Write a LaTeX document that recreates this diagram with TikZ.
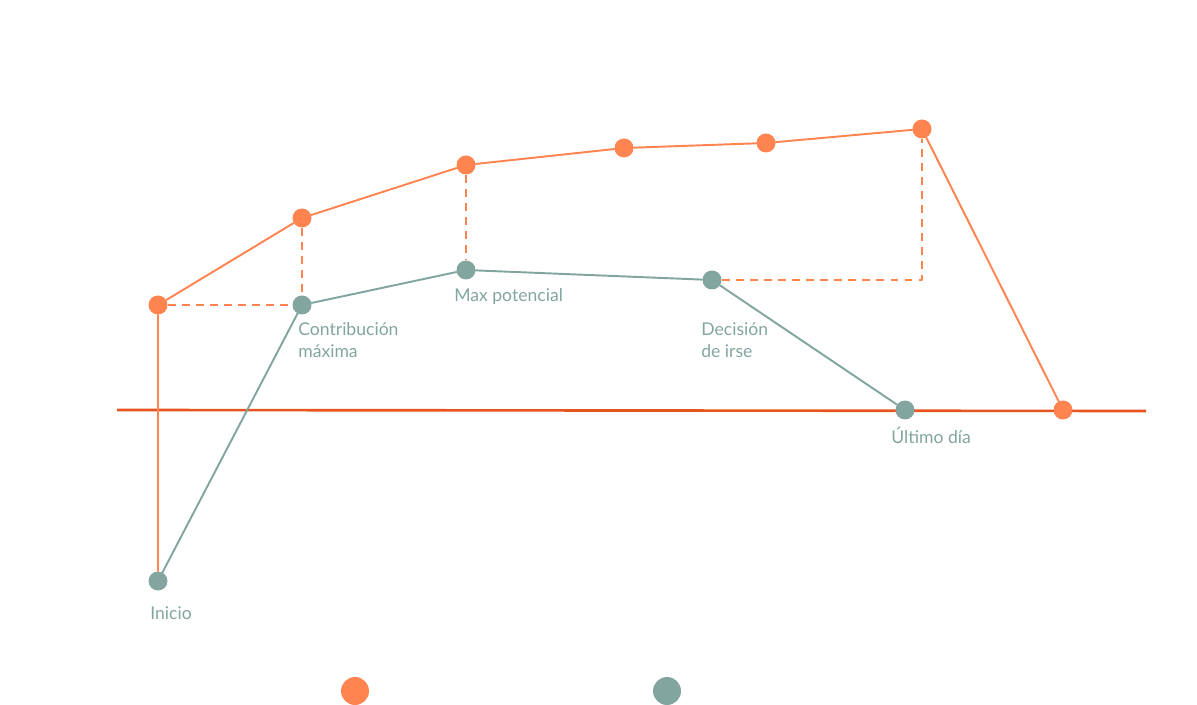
\documentclass[tikz,border=0pt]{standalone}
\usepackage{fontspec}
\setmainfont{Lato}
\definecolor{naranja}{HTML}{FF8450}
\definecolor{gris}{HTML}{82A5A0}
\definecolor{eje}{HTML}{E8541E}
\begin{document}
\begin{tikzpicture}[x=0.02cm,y=-0.02cm,line join=round,line cap=round,font=\fontsize{10}{12.5}\selectfont,
	punto/.style={circle,inner sep=0pt,minimum size=0.38cm},
	pnar/.style={punto,fill=naranja},
	pgris/.style={punto,fill=gris},
	etiq/.style={text=gris,anchor=north west,align=left,inner sep=0pt}]
	\useasboundingbox (0,0) rectangle (1197,705);
	
	\coordinate (E1) at (117,410);
	\coordinate (E2) at (1146,411);
	\coordinate (D3) at (922,280);
	
	\draw[eje,line width=1.5pt,line cap=butt] (E1)--(E2);
	
	%puntos naranjas
	\node[pnar] (O1) at (158,305) {};
	\node[pnar] (O2) at (302,218) {};
	\node[pnar] (O3) at (466,165) {};
	\node[pnar] (O4) at (624,148) {};
	\node[pnar] (O5) at (766,143) {};
	\node[pnar] (O6) at (922,129) {};
	\node[pnar] (O7) at (1063,410) {};
	
	%puntos grises
	\node[pgris] (G0) at (158,581) {};
	\node[pgris] (G1) at (302,305) {};
	\node[pgris] (G2) at (466,270) {};
	\node[pgris] (G3) at (712,280) {};
	\node[pgris] (G4) at (905,410) {};
	
	\draw[naranja,line width=1.1pt] (O1)--(O2)--(O3)--(O4)--(O5)--(O6)--(O7) (O1)--(G0);
	\draw[gris,line width=1.1pt] (G0)--(G1)--(G2)--(G3)--(G4);
	\draw[naranja,line width=1.1pt,line cap=butt,dash pattern=on 4.5pt off 3.5pt] (O1)--(G1) (O2)--(G1) (O3)--(G2) (G3)--(D3)--(O6);
	
	\node[etiq] (l1) at (298,322) {Contribución\\máxima};
	\node[etiq] (l2) at (454,288) {Max potencial};
	\node[etiq] (l3) at (701,322) {Decisión\\de irse};
	\node[etiq] (l4) at (891,427) {Último día};
	\node[etiq] (l5) at (150,606) {Inicio};
	
	%leyenda
	\node[pnar,minimum size=0.56cm] (L1) at (355,691) {};
	\node[pgris,minimum size=0.56cm] (L2) at (667,691) {};
\end{tikzpicture}
\end{document}
